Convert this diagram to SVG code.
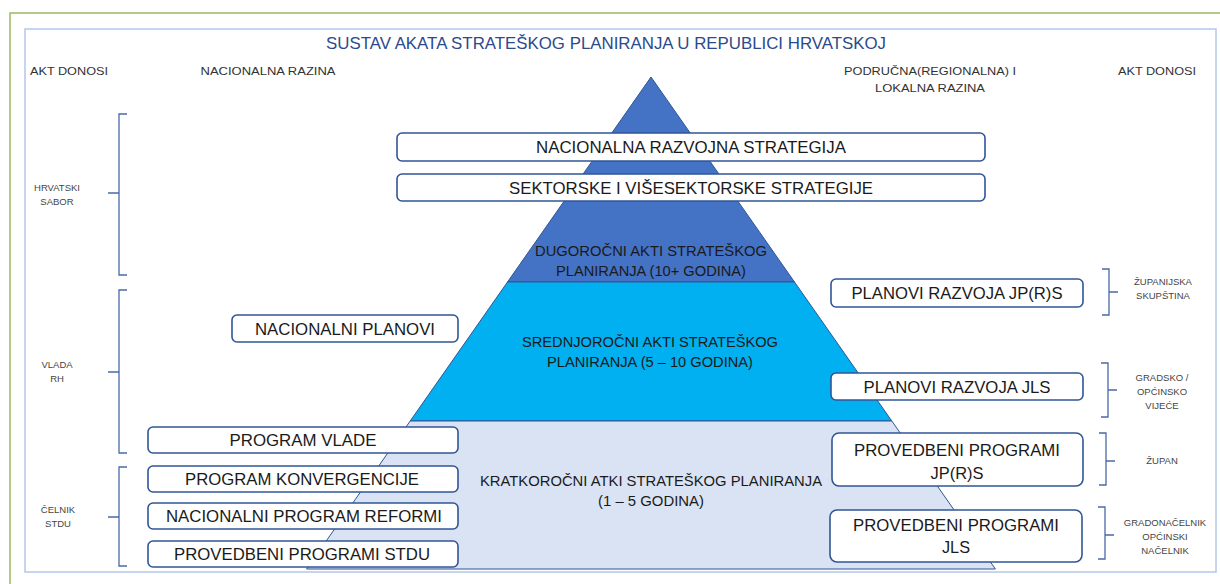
<svg xmlns="http://www.w3.org/2000/svg" width="1220" height="584" viewBox="0 0 1220 584">
<style>
.frame-out{fill:none;stroke:#9BBB59;stroke-width:1.5}
.frame-in{fill:none;stroke:#B4C7E7;stroke-width:1.5}
.box{fill:#FFFFFF;stroke:#2F5597;stroke-width:1.6}
.bt{font-family:"Liberation Sans",Arial,sans-serif;font-size:17px;fill:#1A1A1A;text-anchor:middle}
.lt{font-family:"Liberation Sans",Arial,sans-serif;font-size:15px;fill:#1A1A1A;text-anchor:middle}
.hd{font-family:"Liberation Sans",Arial,sans-serif;font-size:11.5px;fill:#333333;text-anchor:middle}
.sm{font-family:"Liberation Sans",Arial,sans-serif;font-size:9.5px;fill:#444444;text-anchor:middle}
.title{font-family:"Liberation Sans",Arial,sans-serif;font-size:17px;fill:#2B4A8B;text-anchor:middle}
.br{fill:none;stroke:#4A6AA5;stroke-width:1.3}
.l1{fill:#4472C4;stroke:#2F5597;stroke-width:1}
.l2{fill:#00B0F0;stroke:#2F5597;stroke-width:1}
.l3{fill:#DAE3F3;stroke:#2F5597;stroke-width:1}
</style>
<rect x="0" y="0" width="1220" height="584" fill="#FFFFFF"/>
<rect class="frame-out" x="10" y="13" width="1220" height="590"/>
<rect class="frame-in" x="25" y="29" width="1191" height="543"/>

<text class="title" x="606" y="49" textLength="560" lengthAdjust="spacingAndGlyphs">SUSTAV AKATA STRATEŠKOG PLANIRANJA U REPUBLICI HRVATSKOJ</text>
<g id="headers">
<text class="hd" x="69" y="75" textLength="78" lengthAdjust="spacingAndGlyphs">AKT DONOSI</text>
<text class="hd" x="268" y="75" textLength="135" lengthAdjust="spacingAndGlyphs">NACIONALNA RAZINA</text>
<text class="hd" x="930" y="75" textLength="172" lengthAdjust="spacingAndGlyphs">PODRUČNA(REGIONALNA) I</text>
<text class="hd" x="930" y="92" textLength="110" lengthAdjust="spacingAndGlyphs">LOKALNA RAZINA</text>
<text class="hd" x="1157" y="75" textLength="78" lengthAdjust="spacingAndGlyphs">AKT DONOSI</text>
</g>

<g id="pyramid">
<polygon class="l1" points="651,77 794.5,282 507.5,282"/>
<polygon class="l2" points="507.5,282 794.5,282 891.8,421 410.2,421"/>
<polygon class="l3" points="410.2,421 891.8,421 995.4,569 306.6,569"/>
<text class="lt" x="651" y="256" textLength="232" lengthAdjust="spacingAndGlyphs">DUGOROČNI AKTI STRATEŠKOG</text>
<text class="lt" x="651" y="276" textLength="190" lengthAdjust="spacingAndGlyphs">PLANIRANJA (10+ GODINA)</text>
<text class="lt" x="650" y="347" textLength="256" lengthAdjust="spacingAndGlyphs">SREDNJOROČNI AKTI STRATEŠKOG</text>
<text class="lt" x="650" y="367" textLength="206" lengthAdjust="spacingAndGlyphs">PLANIRANJA (5 – 10 GODINA)</text>
<text class="lt" x="651" y="486" textLength="342" lengthAdjust="spacingAndGlyphs">KRATKOROČNI ATKI STRATEŠKOG PLANIRANJA</text>
<text class="lt" x="651" y="506" textLength="106" lengthAdjust="spacingAndGlyphs">(1 – 5 GODINA)</text>
</g>

<g id="connectors">
<path class="br" d="M127,114 H119 V275 H127 M119,193 H108"/>
<path class="br" d="M127,290 H119 V453 H127 M119,372 H108"/>
<path class="br" d="M127,467 H119 V566 H127 M119,517 H108"/>
<path class="br" d="M1102,269 H1109 V315 H1102 M1109,292 H1118"/>
<path class="br" d="M1101,363 H1108 V417 H1101 M1108,390 H1117"/>
<path class="br" d="M1099,433 H1106 V485 H1099 M1106,461 H1115"/>
<path class="br" d="M1098,507 H1105 V559 H1098 M1105,535 H1114"/>
</g>

<g id="donosi-left">
<text class="sm" x="57" y="191">HRVATSKI</text>
<text class="sm" x="57" y="205">SABOR</text>
<text class="sm" x="57" y="368">VLADA</text>
<text class="sm" x="57" y="382">RH</text>
<text class="sm" x="58" y="513">ČELNIK</text>
<text class="sm" x="58" y="527">STDU</text>
</g>
<g id="donosi-right">
<text class="sm" x="1163" y="285">ŽUPANIJSKA</text>
<text class="sm" x="1163" y="299">SKUPŠTINA</text>
<text class="sm" x="1162" y="381">GRADSKO /</text>
<text class="sm" x="1162" y="395">OPĆINSKO</text>
<text class="sm" x="1162" y="409">VIJEĆE</text>
<text class="sm" x="1162" y="464">ŽUPAN</text>
<text class="sm" x="1165" y="526">GRADONAČELNIK</text>
<text class="sm" x="1165" y="540">OPĆINSKI</text>
<text class="sm" x="1165" y="554">NAČELNIK</text>
</g>

<g id="n-nrs"><rect class="box" x="397" y="133" width="588" height="28" rx="5"/><text class="bt" x="691" y="153" textLength="310" lengthAdjust="spacingAndGlyphs">NACIONALNA RAZVOJNA STRATEGIJA</text></g>
<g id="n-svs"><rect class="box" x="397" y="174" width="588" height="27" rx="5"/><text class="bt" x="691" y="194" textLength="364" lengthAdjust="spacingAndGlyphs">SEKTORSKE I VIŠESEKTORSKE STRATEGIJE</text></g>
<g id="n-np"><rect class="box" x="232" y="315" width="226" height="27" rx="5"/><text class="bt" x="345" y="335" textLength="180" lengthAdjust="spacingAndGlyphs">NACIONALNI PLANOVI</text></g>
<g id="n-pv"><rect class="box" x="148" y="427" width="310" height="26" rx="5"/><text class="bt" x="303" y="446" textLength="147" lengthAdjust="spacingAndGlyphs">PROGRAM VLADE</text></g>
<g id="n-pk"><rect class="box" x="148" y="466" width="310" height="26" rx="5"/><text class="bt" x="302" y="485" textLength="234" lengthAdjust="spacingAndGlyphs">PROGRAM KONVERGENCIJE</text></g>
<g id="n-npr"><rect class="box" x="148" y="503" width="310" height="26" rx="5"/><text class="bt" x="304" y="522" textLength="276" lengthAdjust="spacingAndGlyphs">NACIONALNI PROGRAM REFORMI</text></g>
<g id="n-pps"><rect class="box" x="148" y="541" width="310" height="26" rx="5"/><text class="bt" x="302" y="560" textLength="256" lengthAdjust="spacingAndGlyphs">PROVEDBENI PROGRAMI STDU</text></g>
<g id="n-prj"><rect class="box" x="831" y="279" width="252" height="28" rx="5"/><text class="bt" x="957" y="299" textLength="211" lengthAdjust="spacingAndGlyphs">PLANOVI RAZVOJA JP(R)S</text></g>
<g id="n-prl"><rect class="box" x="831" y="373" width="252" height="27" rx="5"/><text class="bt" x="957" y="393" textLength="187" lengthAdjust="spacingAndGlyphs">PLANOVI RAZVOJA JLS</text></g>
<g id="n-ppj"><rect class="box" x="832" y="433" width="251" height="53" rx="7"/><text class="bt" x="957" y="456" textLength="206" lengthAdjust="spacingAndGlyphs">PROVEDBENI PROGRAMI</text><text class="bt" x="957" y="479" textLength="53" lengthAdjust="spacingAndGlyphs">JP(R)S</text></g>
<g id="n-ppl"><rect class="box" x="830" y="510" width="252" height="52" rx="7"/><text class="bt" x="956" y="531" textLength="206" lengthAdjust="spacingAndGlyphs">PROVEDBENI PROGRAMI</text><text class="bt" x="956" y="553" textLength="28" lengthAdjust="spacingAndGlyphs">JLS</text></g>
</svg>
